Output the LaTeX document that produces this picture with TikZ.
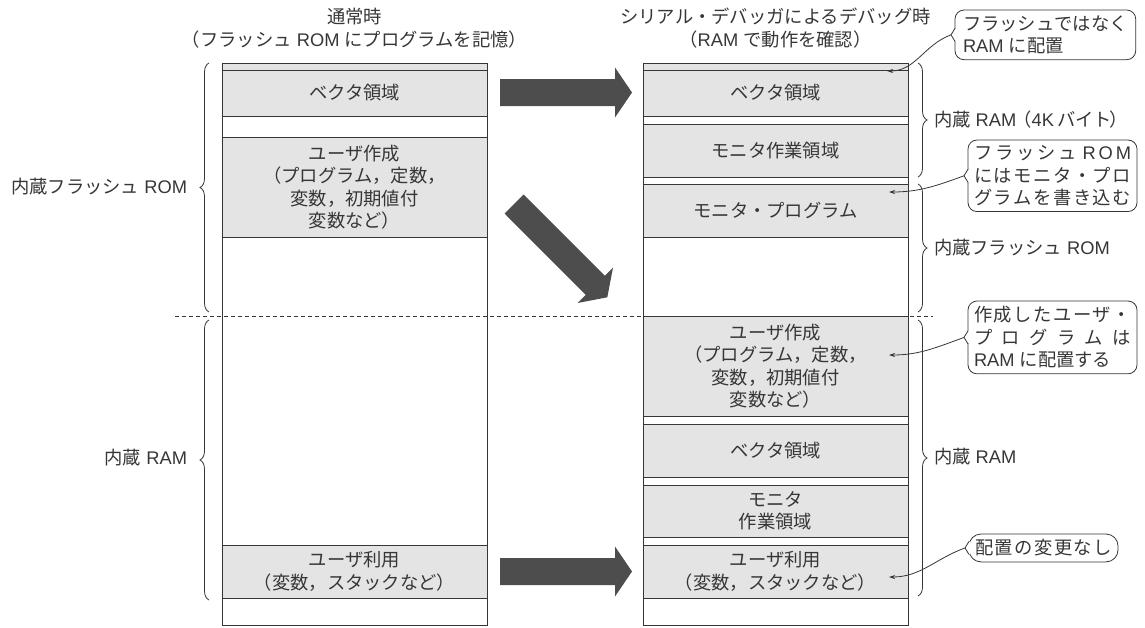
\documentclass[tikz,border=0pt]{standalone}
\usepackage{fontspec}
\setmainfont{Noto Sans CJK JP}
\newfontfamily\latfont{Liberation Sans}
\newcommand{\latw}[1]{{\latfont #1}}
\usetikzlibrary{decorations.pathreplacing,arrows.meta}
\definecolor{ink}{HTML}{363636}
\definecolor{boxgray}{HTML}{E4E4E4}
\definecolor{arrowgray}{HTML}{4D4D4D}
\newcommand{\calline}[1]{\hbox to 157pt{#1}}
\begin{document}
\begin{tikzpicture}[x=1pt,y=-1pt,
  every node/.style={font=\fontsize{18.3}{22.5}\selectfont, text=ink, inner sep=0pt, outer sep=0pt},
  frame/.style={draw=ink, line width=1pt, minimum width=265pt, anchor=north west},
  area/.style={draw=ink, line width=1pt, fill=boxgray, minimum width=265pt, anchor=north west, align=center},
  callout/.style={draw=ink, line width=0.8pt, rounded corners=9pt, align=left, inner xsep=6pt, inner ysep=5.5pt, anchor=north west},
  brc/.style={decorate, decoration={brace, amplitude=9pt}, draw=ink, line width=0.8pt},
  lead/.style={draw=ink, line width=0.8pt, -{Stealth[length=6pt,width=4pt]}},
  bigarrow/.style={fill=arrowgray},
  sep/.style={draw=ink, line width=0.8pt, dash pattern=on 4pt off 3pt},
]
\useasboundingbox (0,0) rectangle (1145,627);

% headers
\node[align=center] (hL) at (354.5,28) {通常時\\（フラッシュ\latw{ ROM }にプログラムを記憶）};
\node[align=center] (hR) at (775.5,28) {シリアル・デバッガによるデバッグ時\\（\latw{RAM }で動作を確認）};

% columns
\node[frame, minimum height=562pt] (colL) at (222,63) {};
\node[frame, minimum height=562pt] (colR) at (643,63) {};

% left column
\node[area, minimum height=7pt] (stL) at (222,63) {};
\node[area, minimum height=46pt] (lvec) at (222,70) {ベクタ領域};
\node[area, minimum height=100pt] (luser) at (222,137) {ユーザ作成\\（プログラム，定数，\\変数，初期値付\\変数など）};
\node[area, minimum height=53pt] (lstack) at (222,545) {ユーザ利用\\（変数，スタックなど）};

% right column
\node[area, minimum height=7pt] (stR) at (643,63) {};
\node[area, minimum height=46pt] (rvec) at (643,70) {ベクタ領域};
\node[area, minimum height=53pt] (rmonw) at (643,124) {モニタ作業領域};
\node[area, minimum height=53pt] (rmonp) at (643,184) {モニタ・プログラム};
\node[area, minimum height=100pt] (ruser) at (643,316) {ユーザ作成\\（プログラム，定数，\\変数，初期値付\\変数など）};
\node[area, minimum height=53pt] (rvec2) at (643,424) {ベクタ領域};
\node[area, minimum height=52pt] (rmonw2) at (643,485) {モニタ\\作業領域};
\node[area, minimum height=53pt] (rstack) at (643,545) {ユーザ利用\\（変数，スタックなど）};

% separator
\draw[sep] (175,316) -- (933,316);

% braces
\draw[brc] (209,312) -- (209,63);
\draw[brc] (209,600) -- (209,320);
\draw[brc] (918,63) -- (918,177);
\draw[brc] (918,184) -- (918,312);
\draw[brc] (918,320) -- (918,596);

\node[anchor=east] (bL1) at (187,187) {内蔵フラッシュ\latw{ ROM}};
\node[anchor=east] (bL2) at (187,458) {内蔵\latw{ RAM}};
\node[anchor=west] (bR1) at (934,120) {内蔵\latw{ RAM}\kern-3pt（\latw{4K}\kern3pt バイト\kern-2pt）};
\node[anchor=west] (bR2) at (934,248) {内蔵フラッシュ\latw{ ROM}};
\node[anchor=west] (bR3) at (934,457) {内蔵\latw{ RAM}};

% big arrows
\fill[bigarrow] (500,79) -- (615,79) -- (615,67.5) -- (632,92.5) -- (615,117.5) -- (615,106) -- (500,106) -- cycle;
\fill[bigarrow] (500,558) -- (615,558) -- (615,546.5) -- (632,571.5) -- (615,596.5) -- (615,585) -- (500,585) -- cycle;
\fill[bigarrow] (523.5,194.5) -- (604.9,275.8) -- (613.0,267.6) -- (607.3,297.3) -- (577.6,303.0) -- (585.8,294.9) -- (504.5,213.5) -- cycle;

% callouts
\node[callout, inner xsep=8pt] (c1) at (955,10) {フラッシュではなく\\\latw{RAM }に配置};
\node[callout] (c2) at (968,140) {\calline{フ\hfil ラ\hfil ッ\hfil シ\hfil ュ\hfil\hfil \latw{R\hfil O\hfil M}}\\\calline{に\hfil は\hfil モ\hfil ニ\hfil タ\hfil ・\hfil プ\hfil ロ}\\\calline{グ\hfil ラ\hfil ム\hfil を\hfil 書\hfil き\hfil 込\hfil む}};
\node[callout] (c3) at (968,301) {\calline{作\hfil 成\hfil し\hfil た\hfil ユ\hfil ー\hfil ザ\hfil ・}\\\calline{プ\hfil ロ\hfil グ\hfil ラ\hfil ム\hfil は}\\\latw{RAM }に配置する};
\node[callout, rounded corners=12pt, inner xsep=6pt] (c4) at (969,534) {\hbox to 137pt{配\hfil 置\hfil の\hfil 変\hfil 更\hfil な\hfil し}};

\foreach \c in {c1,c2,c3,c4} {
  \fill[white] ([xshift=-0.8pt,yshift=6pt]\c.west) rectangle ([xshift=0.8pt,yshift=-6pt]\c.west);
  \draw[ink, line width=0.8pt] ([yshift=6.5pt]\c.west) -- ([xshift=-4pt]\c.west) -- ([yshift=-6.5pt]\c.west);
}

\coordinate (t1) at (887,71);
\coordinate (t2) at (889,192);
\coordinate (t3) at (889,355);
\coordinate (t4) at (889,577);
\draw[lead] ([xshift=-4pt]c1.west) to[out=200,in=0] (t1);
\draw[lead] ([xshift=-4pt]c2.west) to[out=200,in=0] (t2);
\draw[lead] ([xshift=-4pt]c3.west) to[out=200,in=0] (t3);
\draw[lead] ([xshift=-4pt]c4.west) to[out=200,in=0] (t4);
\end{tikzpicture}
\end{document}
